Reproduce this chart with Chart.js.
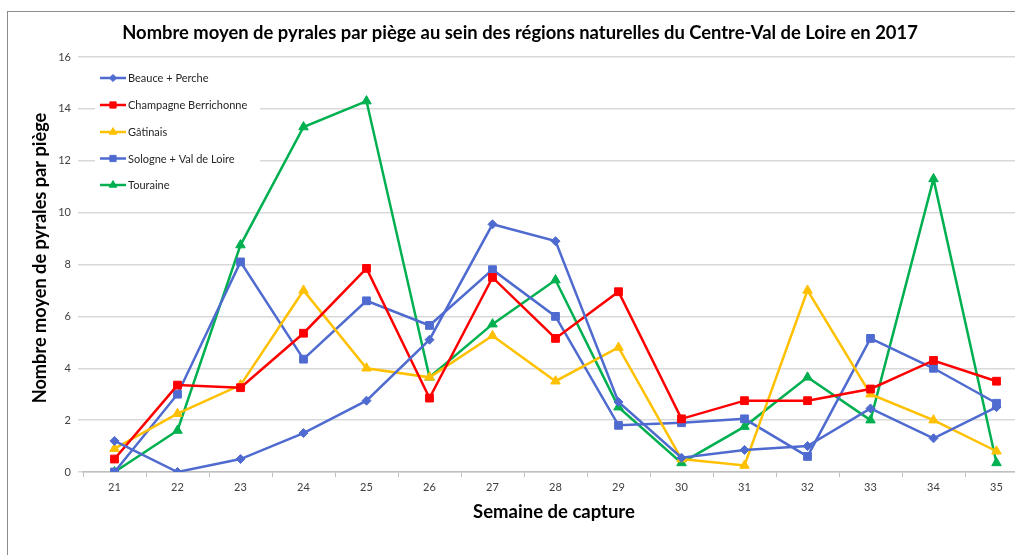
<!DOCTYPE html>
<html>
<head>
<meta charset="utf-8">
<script src="https://cdn.jsdelivr.net/npm/chart.js@4/dist/chart.umd.min.js"></script>
<style>
html,body{margin:0;padding:0;background:#fff;overflow:hidden;}
#wrap{position:relative;width:1040px;height:555px;}
</style>
</head>
<body>
<div id="wrap"><canvas id="c" width="1040" height="555"></canvas></div>
<script>
const weeks = ['21','22','23','24','25','26','27','28','29','30','31','32','33','34','35'];
const beauce   = [1.2, 0, 0.5, 1.5, 2.75, 5.1, 9.55, 8.9, 2.7, 0.55, 0.85, 1.0, 2.45, 1.3, 2.5];
const champagne= [0.5, 3.35, 3.25, 5.35, 7.85, 2.85, 7.5, 5.15, 6.95, 2.05, 2.75, 2.75, 3.2, 4.3, 3.5];
const gatinais = [0.9, 2.25, 3.35, 7.0, 4.0, 3.65, 5.25, 3.5, 4.8, 0.5, 0.25, 7.0, 3.0, 2.0, 0.8];
const sologne  = [0, 3.0, 8.1, 4.35, 6.6, 5.65, 7.8, 6.0, 1.8, 1.9, 2.05, 0.6, 5.15, 4.0, 2.65];
const touraine = [0, 1.6, 8.75, 13.3, 14.3, 3.65, 5.7, 7.4, 2.5, 0.35, 1.75, 3.65, 2.0, 11.3, 0.35];
const seriesNames = ['Beauce + Perche','Champagne Berrichonne','Gâtinais','Sologne + Val de Loire','Touraine'];
const yTicks = [0,2,4,6,8,10,12,14,16];

const chartTitle = 'Nombre moyen de pyrales par piège au sein des régions naturelles du Centre-Val de Loire en 2017';
const yTitle = 'Nombre moyen de pyrales par piège';
const xTitle = 'Semaine de capture';

const BLUE='#4F6BD0', RED='#FF0000', YEL='#FFC000', GRN='#00B050';

function ds(label, data, color, style, r){
  return {label, data, borderColor:color, backgroundColor:color, pointStyle:style,
    pointRadius:r, pointHoverRadius:r, borderWidth:2.5, pointBorderWidth:1, tension:0};
}

const decor = {
  id:'decor',
  beforeDraw(chart){
    const ctx=chart.ctx;
    ctx.save();
    ctx.fillStyle='#fff';ctx.fillRect(0,0,chart.width,chart.height);
    ctx.strokeStyle='#8c8c8c';ctx.lineWidth=1;
    ctx.strokeRect(7.5,11.5,1200,700);
    ctx.restore();
  },
  afterDraw(chart){
    const ctx=chart.ctx;
    ctx.save();
    ctx.fillStyle='#000';
    ctx.textAlign='center';ctx.textBaseline='middle';
    ctx.font='bold 18.4px Lato';
    ctx.fillText(chartTitle,520,33);
    ctx.font='bold 18.5px Lato';
    ctx.fillText(xTitle,554,512);
    ctx.save();
    ctx.translate(40,258);ctx.rotate(-Math.PI/2);
    ctx.font='bold 18.2px Lato';
    ctx.fillText(yTitle,0,0);
    ctx.restore();
    // legend
    ctx.fillStyle='#fff';
    ctx.fillRect(95,64,165,134);
    const rows=[78,105,132,158.5,185];
    chart.data.datasets.forEach((d,i)=>{
      const y=rows[i];
      ctx.strokeStyle=d.borderColor;ctx.lineWidth=2.5;
      ctx.beginPath();ctx.moveTo(100,y);ctx.lineTo(126,y);ctx.stroke();
      ctx.fillStyle=d.borderColor;ctx.strokeStyle=d.borderColor;ctx.lineWidth=1;
      Chart.helpers.drawPoint(ctx,{pointStyle:d.pointStyle,radius:d.pointRadius*0.8,rotation:0,borderWidth:1},113,y);
      ctx.fillStyle='#262626';
      ctx.textAlign='left';ctx.textBaseline='middle';
      ctx.font='11px Lato';
      ctx.fillText(d.label,128,y+0.5);
    });
    ctx.restore();
  }
};

new Chart(document.getElementById('c'),{
  type:'line',
  data:{labels:weeks,datasets:[
    ds(seriesNames[0],beauce,BLUE,'rectRot',4.5),
    ds(seriesNames[1],champagne,RED,'rect',5.5),
    ds(seriesNames[2],gatinais,YEL,'triangle',5.5),
    ds(seriesNames[3],sologne,BLUE,'rect',5.5),
    ds(seriesNames[4],touraine,GRN,'triangle',5.5)
  ]},
  options:{
    responsive:false,animation:false,devicePixelRatio:1,
    layout:{padding:{left:7,top:57,right:12,bottom:0}},
    plugins:{legend:{display:false},title:{display:false},tooltip:{enabled:false}},
    scales:{
      x:{
        offset:true,
        grid:{display:true,drawOnChartArea:false,offset:true,tickLength:5,color:'#bfbfbf',lineWidth:1},
        border:{color:'#bfbfbf',width:1.5},
        ticks:{color:'#404040',font:{family:'Lato',size:11},padding:4,maxRotation:0},
        afterFit(s){s.height=83;}
      },
      y:{
        min:0,max:16,
        afterBuildTicks(s){s.ticks=yTicks.map(v=>({value:v}));},
        grid:{color:'#d9d9d9',lineWidth:1.5,tickLength:5},
        border:{display:false},
        ticks:{color:'#404040',font:{family:'Lato',size:11},padding:7},
        afterFit(s){s.width=76;}
      }
    }
  },
  plugins:[decor]
});
</script>
</body>
</html>
